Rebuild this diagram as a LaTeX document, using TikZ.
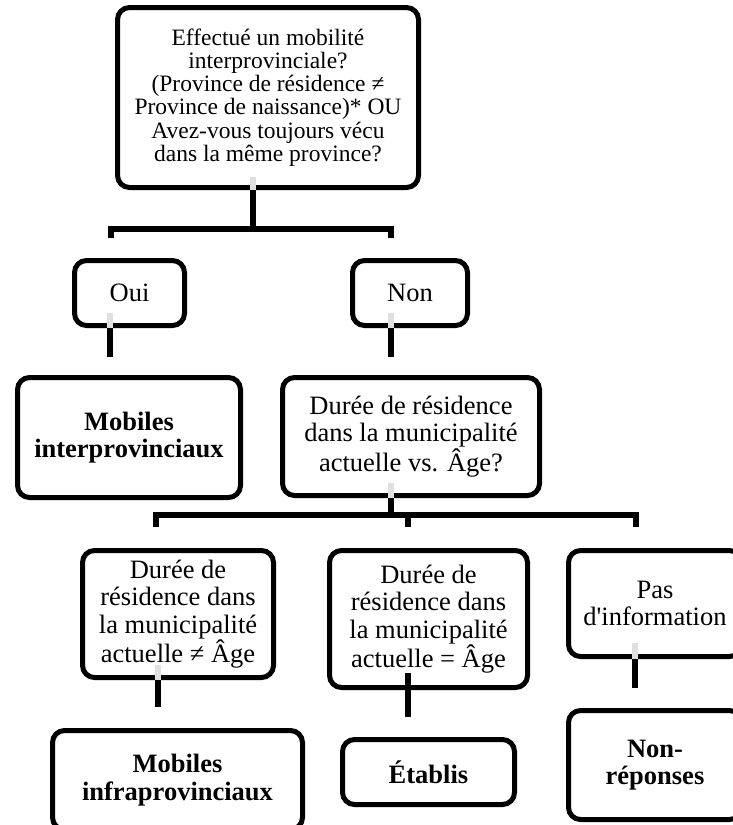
\documentclass[tikz,border=0pt]{standalone}
\usepackage{fontspec}
\setmainfont{Liberation Serif}[Ligatures=TeXOff]
\begin{document}
\begin{tikzpicture}[x=1pt,y=-1pt,
  box/.style={draw, line width=5pt, rounded corners=12pt, fill=white, align=center, inner sep=0pt},
  conn/.style={line width=6.5pt, line join=miter},
  ghost/.style={line width=6.5pt, draw=black!12},
  topfont/.style={font=\fontsize{23.5}{23.3}\selectfont},
  midfont/.style={font=\fontsize{26.5}{27.5}\selectfont},
  boldfont/.style={font=\fontsize{26.5}{27.5}\selectfont\bfseries}]
\useasboundingbox (0,0) rectangle (733,825);

% boxes
\node[box, topfont, minimum width=301, minimum height=180] (q1) at (268,97.5)
  {Effectué un mobilité\\interprovinciale?\\(Province de résidence ≠\\Province de naissance)* OU\\Avez-vous toujours vécu\\dans la même province?};
\node[box, midfont, minimum width=110, minimum height=65] (oui) at (129.5,293) {Oui};
\node[box, midfont, minimum width=115, minimum height=65] (non) at (410,293) {Non};
\node[box, boldfont, minimum width=223, minimum height=120] (minter) at (129,437.5) {Mobiles\\interprovinciaux};
\node[box, midfont, minimum width=257, minimum height=118] (dv) at (411,436.5) {Durée de résidence\\dans la municipalité\\actuelle vs. Âge?};
\node[box, midfont, minimum width=191, minimum height=127] (da) at (178,614) {Durée de\\résidence dans\\la municipalité\\actuelle ≠ Âge};
\node[box, midfont, minimum width=198, minimum height=137] (db) at (428.5,619) {Durée de\\résidence dans\\la municipalité\\actuelle = Âge};
\node[box, midfont, minimum width=173, minimum height=106] (pi) at (655,603.5) {Pas\\d'information};
\node[box, boldfont, minimum width=250, minimum height=99] (minfra) at (177.5,780) {Mobiles\\infraprovinciaux};
\node[box, boldfont, minimum width=172, minimum height=65] (etab) at (428.5,772) {Établis};
\node[box, boldfont, minimum width=173, minimum height=109] (nonrep) at (655,765) {Non-\\réponses};

% junctions
\coordinate (j1) at (253,229);
\coordinate (l1) at (111,238);
\coordinate (r1) at (391,238);
\coordinate (o1) at (110,357);
\coordinate (n1) at (391,357);
\coordinate (j2) at (391,515);
\coordinate (l2) at (156,527);
\coordinate (m2) at (408,527);
\coordinate (r2) at (636,527);
\coordinate (a1) at (158,707);
\coordinate (b1) at (408,717);
\coordinate (c1) at (635,688);

% connectors
\draw[conn] (q1.south -| j1) -- (j1);
\draw[ghost] (q1.south -| j1) -- ++(0,-13);
\draw[conn] (l1) |- (j1) -| (r1);

\draw[conn] (oui.south -| o1) -- (o1);
\draw[ghost] (oui.south -| o1) -- ++(0,-15);
\draw[conn] (non.south -| n1) -- (n1);
\draw[ghost] (non.south -| n1) -- ++(0,-15);

\draw[conn] (dv.south -| j2) -- (j2);
\draw[ghost] (dv.south -| j2) -- ++(0,-15);
\draw[conn] (l2) |- (r2 |- j2) -- (r2);
\draw[conn] (m2 |- j2) -- (m2);

\draw[conn] (da.south -| a1) -- (a1);
\draw[ghost] (da.south -| a1) -- ++(0,-15);
\draw[conn] (db.south -| b1) ++(0,-17) -- (b1);
\draw[conn] (pi.south -| c1) -- (c1);
\draw[ghost] (pi.south -| c1) -- ++(0,-16);
\end{tikzpicture}
\end{document}
